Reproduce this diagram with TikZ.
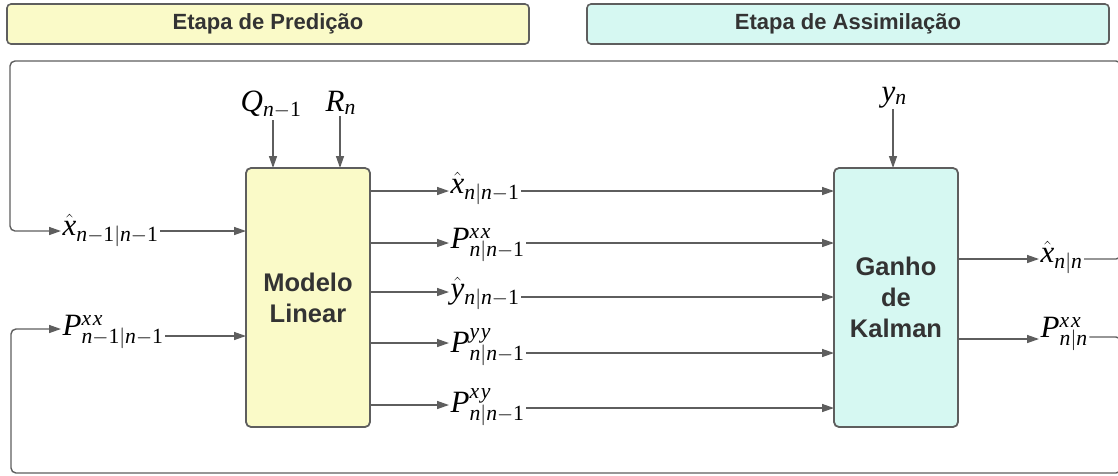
\documentclass[tikz,border=0pt]{standalone}
\usepackage{fontspec}
\setmainfont{Liberation Serif}
\setsansfont{Liberation Sans}
\usetikzlibrary{arrows.meta,calc}
\definecolor{ylw}{HTML}{FAFAC8}
\definecolor{cyn}{HTML}{D6F8F2}
\definecolor{edgec}{HTML}{5E5E5E}
\definecolor{txt}{HTML}{333333}
\newcommand{\vi}[1]{\mathit{#1}}
\newcommand{\vr}[1]{\mathrm{#1}}
\newcommand{\nmo}{\vi{n}{-}\vr{1}}
\newcommand{\sxx}{\vi{x}\mkern1.5mu\vi{x}}
\newcommand{\syy}{\vi{y}\mkern1.5mu\vi{y}}
\newcommand{\sxy}{\vi{x}\mkern1.5mu\vi{y}}
\begin{document}
\begin{tikzpicture}[x=1pt,y=-1pt,
  hdr/.style={draw=edgec, line width=1.6pt, rounded corners=4pt, minimum width=522pt, minimum height=40pt, inner sep=0pt, font=\sffamily\bfseries\fontsize{22}{26}\selectfont, text=txt},
  blk/.style={draw=edgec, line width=1.8pt, rounded corners=5pt, minimum width=124pt, minimum height=259pt, inner sep=0pt, font=\sffamily\bfseries\fontsize{25.5}{31}\selectfont, text=txt, align=center},
  lbl/.style={anchor=base west, inner sep=1.5pt, font=\fontsize{31}{34}\selectfont},
  arr/.style={draw=edgec, line width=1.4pt, -{Triangle[length=12pt,width=8pt]}},
]
\useasboundingbox (0,0) rectangle (1118,475);
\clip (0,0) rectangle (1118,475);

% headers
\node[hdr, fill=ylw] (h1) at (268,24) {Etapa de Predição};
\node[hdr, fill=cyn] (h2) at (848,24) {Etapa de Assimilação};

% blocks
\node[blk, fill=ylw] (ml) at (308,297.5) {Modelo\\Linear};
\node[blk, fill=cyn] (kg) at (896,297.5) {Ganho\\de\\Kalman};

% top inputs
\node[lbl] (q) at (239,111) {$\vi{Q}_{\nmo}$};
\node[lbl] (r) at (324,111) {$\vi{R}_{\vi{n}}$};
\node[lbl] (y) at (880,101) {$\vi{y}_{\vi{n}}$};
\coordinate (qin) at (273,168);
\coordinate (rin) at (340,168);
\coordinate (yin) at (893,168);
\draw[arr] (qin |- q.south) -- (qin);
\draw[arr] (rin |- r.south) -- (rin);
\draw[arr] (yin |- y.south) -- (yin);

% left inputs
\node[lbl] (xin) at (61,235) {$\hat{\vi{x}}_{\nmo|\nmo}$};
\node[lbl] (pin) at (61,335) {$\vi{P}_{\nmo|\nmo}^{\sxx}$};
\coordinate (mi1) at (246,231);
\coordinate (mi2) at (246,336);
\draw[arr] (xin.east |- mi1) -- (mi1);
\draw[arr] (pin.east |- mi2) -- (mi2);

% outputs of the linear model
\node[lbl] (l1) at (449,193) {$\hat{\vi{x}}_{\vi{n}|\nmo}$};
\node[lbl] (l2) at (449,248) {$\vi{P}_{\vi{n}|\nmo}^{\sxx}$};
\node[lbl] (l3) at (449,298) {$\hat{\vi{y}}_{\vi{n}|\nmo}$};
\node[lbl] (l4) at (449,352) {$\vi{P}_{\vi{n}|\nmo}^{\syy}$};
\node[lbl] (l5) at (449,412) {$\vi{P}_{\vi{n}|\nmo}^{\sxy}$};
\coordinate (o1) at (370,191);
\coordinate (o2) at (370,243);
\coordinate (o3) at (370,292);
\coordinate (o4) at (370,343);
\coordinate (o5) at (370,405);
\coordinate (k1) at (834,191);
\coordinate (k2) at (834,243);
\coordinate (k3) at (834,297);
\coordinate (k4) at (834,353);
\coordinate (k5) at (834,408);
\foreach \i in {1,...,5}{
  \draw[arr] (o\i) -- (o\i -| l\i.west);
  \draw[arr] (l\i.east |- k\i) -- (k\i);
}

% outputs of the Kalman gain
\node[lbl] (xnn) at (1039,262) {$\hat{\vi{x}}_{\vi{n}|\vi{n}}$};
\node[lbl] (pnn) at (1039,337) {$\vi{P}_{\vi{n}|\vi{n}}^{\sxx}$};
\coordinate (ko1) at (958,259);
\coordinate (ko2) at (958,339);
\coordinate (ro1) at (1121,259);
\coordinate (ro2) at (1121,337);
\draw[arr] (ko1) -- (ko1 -| xnn.west);
\draw[arr] (ko2) -- (ko2 -| pnn.west);

% feedback loops
\coordinate (tr) at (1121,61);
\coordinate (tl) at (10,61);
\coordinate (br) at (1121,473);
\coordinate (bl) at (11,473);
\coordinate (fb1) at (10,231);
\coordinate (fb2) at (11,329);
\draw[arr, rounded corners=5pt] (xnn.east |- ro1) -- (ro1) -- (tr) -- (tl) -- (fb1) -- (fb1 -| xin.west);
\draw[arr, rounded corners=5pt] (pnn.east |- ro2) -- (ro2) -- (br) -- (bl) -- (fb2) -- (fb2 -| pin.west);
\end{tikzpicture}
\end{document}
